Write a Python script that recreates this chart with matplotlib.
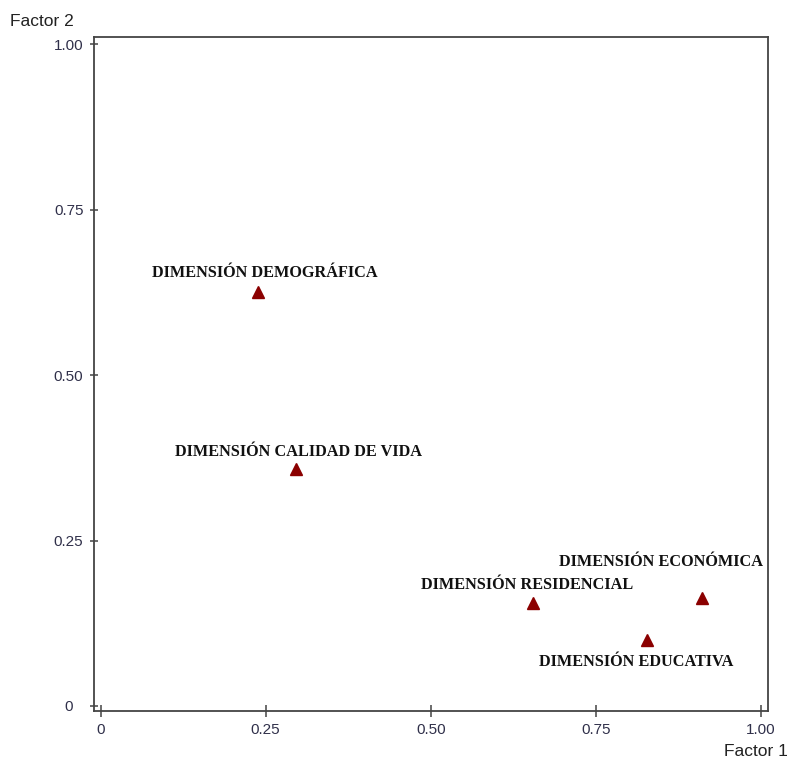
import matplotlib
matplotlib.use("Agg")
import matplotlib.pyplot as plt

# Data
labels = ["DIMENSIÓN DEMOGRÁFICA", "DIMENSIÓN CALIDAD DE VIDA", "DIMENSIÓN RESIDENCIAL",
          "DIMENSIÓN ECONÓMICA", "DIMENSIÓN EDUCATIVA"]
factor1 = [0.238, 0.296, 0.655, 0.911, 0.827]
factor2 = [0.626, 0.358, 0.156, 0.163, 0.100]
ticks = [0, 0.25, 0.50, 0.75, 1.00]
tick_labels = ["0", "0.25", "0.50", "0.75", "1.00"]

# label offsets in pixels (dx, dy) relative to marker
offsets = [(7, 19), (2, 17), (-6, 18), (-41, 36), (-11, -22)]

fig = plt.figure(figsize=(7.9, 7.6), dpi=100)
W, H = 790, 760
left, right, top, bottom = 93.5, 768, 37, 711
ax = fig.add_axes([left / W, 1 - bottom / H, (right - left) / W, (bottom - top) / H])

ax.plot(factor1, factor2, linestyle="none", marker="^", color="#8B0000", markersize=8.5)

for x, y, lab, (dx, dy) in zip(factor1, factor2, labels, offsets):
    ax.annotate(lab, (x, y), xytext=(dx, dy), textcoords="offset pixels",
                ha="center", va="center", fontsize=11.7, fontweight="bold",
                family="Liberation Serif", color="#111111")

ax.set_xlim(-0.0106, 1.0106)
ax.set_ylim(-0.0076, 1.0113)
ax.set_xticks(ticks)
ax.set_xticklabels(tick_labels)
ax.set_yticks(ticks)
ax.set_yticklabels(tick_labels)

for s in ax.spines.values():
    s.set_color("#444444")
    s.set_linewidth(1.3)

tick_col = "#30304a"
ax.tick_params(axis="x", direction="inout", length=8.6, width=1.1, color="#444444",
               labelsize=11, labelcolor=tick_col, pad=4)
ax.tick_params(axis="y", direction="inout", length=5.8, width=1.1, color="#444444",
               labelsize=11, labelcolor=tick_col, pad=15)
for t in ax.get_yticklabels():
    t.set_ha("center")
    t.set_family("Liberation Sans")
for t in ax.get_xticklabels():
    t.set_family("Liberation Sans")

fig.text(10 / W, 1 - 21 / H, "Factor 2", ha="left", va="center", fontsize=12.5,
         family="Liberation Sans", color="#222222")
fig.text(788 / W, 1 - 751 / H, "Factor 1", ha="right", va="center", fontsize=12.5,
         family="Liberation Sans", color="#222222")

fig.savefig("out.png", dpi=100)
